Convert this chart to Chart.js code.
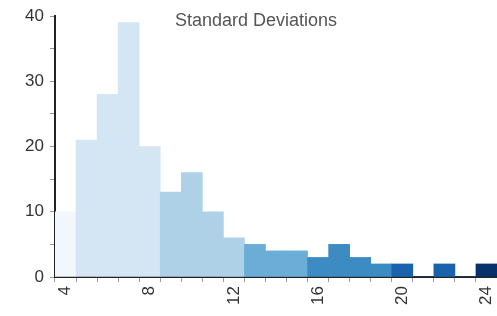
<!DOCTYPE html>
<html>
<head>
<meta charset="utf-8">
<script src="https://cdn.jsdelivr.net/npm/chart.js@4.4.0/dist/chart.umd.min.js"></script>
<style>
  html, body { margin: 0; padding: 0; background: #fff; }
  #wrap { position: relative; width: 497px; height: 316px; }
  #title {
    position: absolute; left: 175px; top: 10px;
    font: 18px "Liberation Sans", Arial, sans-serif; color: #555;
    white-space: nowrap;
  }
</style>
</head>
<body>
<div id="wrap">
  <canvas id="chart-hist" width="497" height="316"></canvas>
  <div id="title">Standard Deviations</div>
</div>
<script>
'use strict';

// Data
var categories = ['4', '5', '6', '7', '8', '9', '10', '11', '12', '13', '14',
	'15', '16', '17', '18', '19', '20', '21', '22', '23', '24'];
var counts = [10, 21, 28, 39, 20, 13, 16, 10, 6, 5, 4, 4, 3, 5, 3, 2, 2, 0, 2, 0, 2];
var binColors = ['#f2f7fd', '#d4e5f4', '#d4e5f4', '#d4e5f4', '#d4e5f4',
	'#aed1e7', '#aed1e7', '#aed1e7', '#aed1e7', '#6badd6', '#6badd6', '#6badd6',
	'#3c8bc3', '#3c8bc3', '#3c8bc3', '#3c8bc3', '#1a63ac', '#1a63ac', '#1a63ac',
	'#1a63ac', '#08306b'];
var yTicks = [0, 10, 20, 30, 40];
var xTicks = ['4', '8', '12', '16', '20', '24'];

var HistChart = (function () {
	var $canvas = document.getElementById('chart-hist');

	function init(el) {
		var font = { family: '"Liberation Sans", Arial, sans-serif', size: 17 };
		var chart = new Chart(el, {
			type: 'bar',
			data: {
				labels: categories,
				datasets: [{
					data: counts,
					backgroundColor: binColors,
					borderWidth: 0,
					barPercentage: 1,
					categoryPercentage: 1
				}]
			},
			options: {
				responsive: false,
				animation: false,
				layout: { padding: { left: 0, right: 0, top: 16, bottom: 0 } },
				plugins: {
					legend: { display: false },
					tooltip: { enabled: false }
				},
				scales: {
					x: {
						offset: true,
						grid: {
							display: true,
							drawOnChartArea: false,
							offset: true,
							tickLength: 5,
							color: '#999'
						},
						border: { color: '#222', width: 2 },
						ticks: {
							autoSkip: false,
							minRotation: 90,
							maxRotation: 90,
							padding: 4,
							color: '#333',
							font: font,
							callback: function (v, i) {
								var lab = categories[i];
								return xTicks.indexOf(lab) >= 0 ? lab : '';
							}
						},
						afterFit: function (s) {
							s.height = 39;
							s.paddingLeft = 0;
							s.paddingRight = 0;
						}
					},
					y: {
						min: 0,
						max: 40,
						grid: {
							display: true,
							drawOnChartArea: false,
							tickLength: 5,
							color: '#999'
						},
						border: { color: '#222', width: 2 },
						ticks: {
							stepSize: 5,
							padding: 6,
							color: '#333',
							font: font,
							callback: function (v) {
								return yTicks.indexOf(v) >= 0 ? v : '';
							}
						},
						afterFit: function (s) {
							s.width = 55;
							s.paddingTop = 0;
							s.paddingBottom = 0;
						}
					}
				}
			}
		});
		return chart;
	}

	if ($canvas) {
		init($canvas);
	}
})();
</script>
</body>
</html>
